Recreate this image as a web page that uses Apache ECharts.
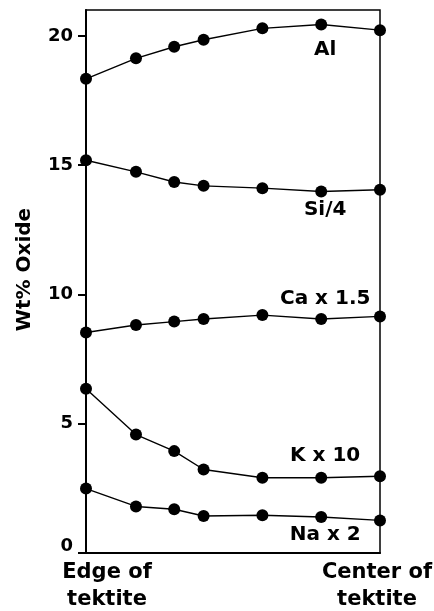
<!DOCTYPE html>
<html>
<head>
<meta charset="utf-8">
<script src="https://cdn.jsdelivr.net/npm/echarts@6/dist/echarts.min.js"></script>
<style>
  html, body { margin: 0; padding: 0; background: #fff; }
  #chart { width: 434px; height: 611px; }
</style>
</head>
<body>
<div id="chart"></div>
<script>
// distance from edge (0) to center (1) of the tektite
const positions = [0, 0.17, 0.30, 0.40, 0.60, 0.80, 1.00]
const seriesNames = ['Al', 'Si/4', 'Ca x 1.5', 'K x 10', 'Na x 2']
const al = [18.34, 19.13, 19.58, 19.85, 20.29, 20.44, 20.22]
const si4 = [15.19, 14.74, 14.35, 14.20, 14.11, 13.98, 14.05]
const ca15 = [8.53, 8.82, 8.95, 9.05, 9.20, 9.05, 9.15]
const k10 = [6.35, 4.58, 3.94, 3.23, 2.91, 2.91, 2.97]
const na2 = [2.49, 1.80, 1.69, 1.43, 1.46, 1.39, 1.26]
const yTicks = [0, 5, 10, 15, 20]
const xEnds = ['Edge of\ntektite', 'Center of\ntektite']

const FONT = 'DejaVu Sans'
const labelIndex = 5
// where each series name sits around its labelled point
const labelPlace = [['bottom', 9], ['bottom', 2], ['top', 4], ['top', 6], ['bottom', 2]]

function makeSeries (name, vals, i) {
  return {
    name: name,
    type: 'line',
    data: vals.map((v, j) => [positions[j], v]),
    symbol: 'circle',
    symbolSize: 12,
    itemStyle: { color: '#000' },
    lineStyle: { color: '#000', width: 1.4 },
    label: {
      show: true,
      position: labelPlace[i][0],
      distance: labelPlace[i][1],
      offset: [4, 0],
      color: '#000',
      fontFamily: FONT,
      fontWeight: 'bold',
      fontSize: 20,
      formatter: p => (p.dataIndex === labelIndex ? name : '')
    }
  }
}

const chart = echarts.init(document.getElementById('chart'))
const option = {
  animation: false,
  backgroundColor: '#fff',
  grid: {
    left: 86, right: 54, top: 10, bottom: 58,
    show: true, borderColor: '#000', borderWidth: 1.5
  },
  xAxis: {
    type: 'value',
    min: 0,
    max: 1,
    axisLine: { lineStyle: { color: '#000', width: 2 } },
    axisTick: { show: false },
    axisLabel: { show: false },
    splitLine: { show: false }
  },
  yAxis: {
    type: 'value',
    min: 0,
    max: 21,
    name: 'Wt% Oxide',
    nameLocation: 'middle',
    nameGap: 51,
    nameTextStyle: {
      color: '#000', fontFamily: FONT, fontWeight: 'bold', fontSize: 20,
      padding: [0, 0, 0, 24]
    },
    axisLine: { show: true, lineStyle: { color: '#000', width: 2 } },
    axisTick: { show: true, inside: false, length: 8, customValues: yTicks, lineStyle: { color: '#000', width: 2 } },
    axisLabel: {
      customValues: yTicks,
      margin: 13,
      color: '#000',
      fontFamily: FONT,
      fontWeight: 'bold',
      fontSize: 18,
      formatter: v => (v === 0 ? '{z|0}' : String(v)),
      rich: { z: { fontFamily: FONT, fontWeight: 'bold', fontSize: 18, color: '#000', padding: [0, 0, 14, 0] } }
    },
    splitLine: { show: false }
  },
  graphic: [
    {
      type: 'text', x: 107, y: 559,
      style: { text: xEnds[0], textAlign: 'center', textVerticalAlign: 'top', fill: '#000', font: 'bold 21px "DejaVu Sans"', lineHeight: 27 }
    },
    {
      type: 'text', x: 377, y: 559,
      style: { text: xEnds[1], textAlign: 'center', textVerticalAlign: 'top', fill: '#000', font: 'bold 21px "DejaVu Sans"', lineHeight: 27 }
    }
  ],
  series: [
    makeSeries(seriesNames[0], al, 0),
    makeSeries(seriesNames[1], si4, 1),
    makeSeries(seriesNames[2], ca15, 2),
    makeSeries(seriesNames[3], k10, 3),
    makeSeries(seriesNames[4], na2, 4)
  ]
}
chart.setOption(option)
</script>
</body>
</html>
